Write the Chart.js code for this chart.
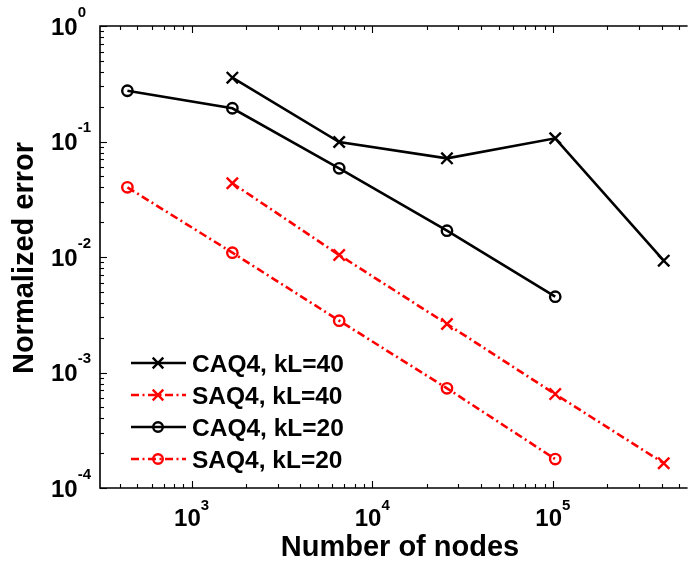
<!DOCTYPE html>
<html>
<head>
<meta charset="utf-8">
<script src="https://cdn.jsdelivr.net/npm/chart.js@4.4.1/dist/chart.umd.min.js"></script>
<style>
html,body{margin:0;padding:0;background:#fff;overflow:hidden;}
canvas{display:block;}
</style>
</head>
<body>
<canvas id="c" width="696" height="566" style="width:696px;height:566px"></canvas>
<script>
// ---- data ----
const nodesA = [441, 1681, 6561, 25921, 103041];        // kL=20 meshes
const nodesB = [1681, 6561, 25921, 103041, 410881];     // kL=40 meshes
const caq4_kL40 = [0.357, 0.099, 0.0715, 0.1066, 0.0093];
const saq4_kL40 = [0.0435, 0.0104, 0.00263, 0.00065, 0.000164];
const caq4_kL20 = [0.275, 0.194, 0.0586, 0.0169, 0.00453];
const saq4_kL20 = [0.0401, 0.0109, 0.00281, 0.00073, 0.000178];
const seriesNames = ['CAQ4, kL=40', 'SAQ4, kL=40', 'CAQ4, kL=20', 'SAQ4, kL=20'];
const xTickValues = [1e3, 1e4, 1e5];
const xTickExps = ['3', '4', '5'];
const yTickValues = [1, 1e-1, 1e-2, 1e-3, 1e-4];
const yTickExps = ['0', '-1', '-2', '-3', '-4'];
const xTitle = 'Number of nodes';
const yTitle = 'Normalized error';

const toXY = (xs, ys) => xs.map((x, i) => ({x: x, y: ys[i]}));
const DASH = [8, 3.5, 2, 3.5];
const FONT = '"Liberation Sans", Arial, sans-serif';
const LW = 2.6;

function ds(label, xs, ys, color, style, dashed) {
  return {
    label: label,
    data: toXY(xs, ys),
    borderColor: color,
    backgroundColor: 'rgba(0,0,0,0)',
    borderWidth: LW,
    borderDash: dashed ? DASH : [],
    pointStyle: style,
    pointRadius: style === 'crossRot' ? 8 : 5.2,
    pointBorderWidth: 2.4,
    pointBorderColor: color,
    pointBackgroundColor: 'rgba(0,0,0,0)',
    tension: 0,
    fill: false
  };
}

const datasets = [
  ds(seriesNames[0], nodesB, caq4_kL40, '#000000', 'crossRot', false),
  ds(seriesNames[1], nodesB, saq4_kL40, '#ff0000', 'crossRot', true),
  ds(seriesNames[2], nodesA, caq4_kL20, '#000000', 'circle', false),
  ds(seriesNames[3], nodesA, saq4_kL20, '#ff0000', 'circle', true)
];

const decor = {
  id: 'decor',
  afterDraw(chart) {
    const ctx = chart.ctx;
    const a = chart.chartArea;
    const xs = chart.scales.x, ys = chart.scales.y;
    ctx.save();
    ctx.strokeStyle = '#000';
    ctx.fillStyle = '#000';
    // frame (left, top, bottom)
    ctx.lineWidth = 1.6;
    ctx.beginPath();
    ctx.moveTo(a.right + 2, a.top); ctx.lineTo(a.left, a.top);
    ctx.lineTo(a.left, a.bottom); ctx.lineTo(a.right + 2, a.bottom);
    ctx.stroke();
    // ticks
    ctx.lineWidth = 1.1;
    const major = 7, minor = 4;
    for (let d = 2; d <= 5; d++) {
      for (let m = 1; m <= 9; m++) {
        const v = m * Math.pow(10, d);
        if (v < xs.min || v > xs.max) continue;
        const px = Math.round(xs.getPixelForValue(v)) + 0.5;
        const L = (m === 1) ? major : minor;
        ctx.beginPath();
        ctx.moveTo(px, a.bottom); ctx.lineTo(px, a.bottom - L);
        ctx.moveTo(px, a.top); ctx.lineTo(px, a.top + L);
        ctx.stroke();
      }
    }
    for (let d = -4; d <= 0; d++) {
      for (let m = 1; m <= 9; m++) {
        const v = m * Math.pow(10, d);
        if (v < ys.min * 0.999 || v > ys.max * 1.001) continue;
        const py = Math.round(ys.getPixelForValue(v)) + 0.5;
        const L = (m === 1) ? major : minor;
        ctx.beginPath();
        ctx.moveTo(a.left, py); ctx.lineTo(a.left + L, py);
        ctx.stroke();
      }
    }
    // x tick labels
    ctx.textBaseline = 'alphabetic';
    xTickValues.forEach((v, i) => {
      const px = xs.getPixelForValue(v);
      ctx.font = 'bold 24px ' + FONT;
      const w1 = ctx.measureText('10').width;
      ctx.font = 'bold 15px ' + FONT;
      const w2 = ctx.measureText(xTickExps[i]).width;
      const x0 = px - (w1 + w2) / 2;
      ctx.textAlign = 'left';
      ctx.font = 'bold 24px ' + FONT;
      ctx.fillText('10', x0, a.bottom + 37.5);
      ctx.font = 'bold 15px ' + FONT;
      ctx.fillText(xTickExps[i], x0 + w1, a.bottom + 22);
    });
    // y tick labels
    yTickValues.forEach((v, i) => {
      const py = ys.getPixelForValue(v);
      ctx.textAlign = 'left';
      ctx.font = 'bold 24px ' + FONT;
      const w1 = ctx.measureText('10').width;
      ctx.fillText('10', 51, py + 8.5);
      ctx.font = 'bold 15px ' + FONT;
      ctx.fillText(yTickExps[i], 51 + w1, py - 9.5);
    });
    // axis titles
    ctx.font = 'bold 29px ' + FONT;
    ctx.textAlign = 'center';
    ctx.fillText(xTitle, 400, 556);
    ctx.save();
    ctx.translate(33, 258);
    ctx.rotate(-Math.PI / 2);
    ctx.fillText(yTitle, 0, 0);
    ctx.restore();
    // legend
    const rowsY = [363, 395, 427, 459];
    chart.data.datasets.forEach((d, i) => {
      const y = rowsY[i];
      ctx.save();
      ctx.strokeStyle = d.borderColor;
      ctx.fillStyle = 'rgba(0,0,0,0)';
      ctx.lineWidth = LW;
      ctx.setLineDash(d.borderDash);
      ctx.beginPath();
      ctx.moveTo(131, y); ctx.lineTo(186, y);
      ctx.stroke();
      ctx.setLineDash([]);
      ctx.lineWidth = 2.4;
      Chart.helpers.drawPoint(ctx, {
        pointStyle: d.pointStyle,
        radius: d.pointStyle === 'crossRot' ? 7.5 : 4.8,
        borderWidth: 2.4
      }, 158, y);
      ctx.restore();
      ctx.font = 'bold 24.5px ' + FONT;
      ctx.textAlign = 'left';
      ctx.fillStyle = '#000';
      ctx.fillText(d.label, 192, y + 8.5);
    });
    ctx.restore();
  }
};

new Chart(document.getElementById('c'), {
  type: 'line',
  data: { datasets: datasets },
  options: {
    responsive: false,
    animation: false,
    devicePixelRatio: 1,
    layout: { padding: { left: 100, top: 26, right: 0, bottom: 78 } },
    plugins: { legend: { display: false }, tooltip: { enabled: false } },
    scales: {
      x: { type: 'logarithmic', display: false, min: 311, max: 543000 },
      y: { type: 'logarithmic', display: false, min: 1e-4, max: 1 }
    }
  },
  plugins: [decor]
});
</script>
</body>
</html>
